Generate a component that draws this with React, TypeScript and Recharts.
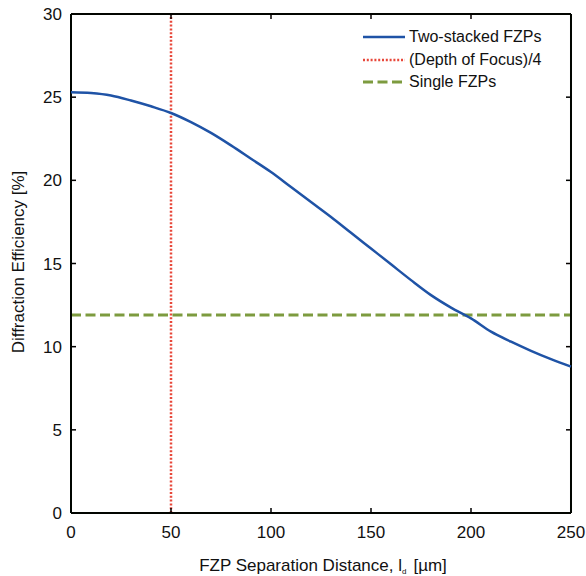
import { Line, LineChart, ReferenceLine, XAxis, YAxis } from "recharts";

// Two-stacked FZP diffraction efficiency vs separation distance
const separation = [
  0, 10, 20, 30, 40, 50, 60, 70, 80, 90, 100, 110, 120, 130, 140, 150, 160,
  170, 180, 190, 200, 210, 220, 230, 240, 250,
];
const twoStacked = [
  25.3, 25.25, 25.1, 24.8, 24.45, 24.05, 23.5, 22.85, 22.1, 21.3, 20.5, 19.6,
  18.7, 17.8, 16.85, 15.9, 14.95, 14.0, 13.1, 12.35, 11.7, 10.9, 10.3, 9.75,
  9.25, 8.8,
];
const depthOfFocusQuarter = 50;
const singleFzp = 11.9;

const xTicks = [0, 50, 100, 150, 200, 250];
const yTicks = [0, 5, 10, 15, 20, 25, 30];
const X_MIN = 0;
const X_MAX = 250;
const Y_MIN = 0;
const Y_MAX = 30;

const BLUE = "#1f53a6";
const RED = "#e8473a";
const GREEN = "#7d9b3f";
const FONT = "'Liberation Sans', Arial, Helvetica, sans-serif";

const data = separation.map((x, i) => ({ x, two: twoStacked[i] }));

const legendItems = [
  { label: "Two-stacked FZPs", color: BLUE, dash: undefined, width: 2.5 },
  { label: "(Depth of Focus)/4", color: RED, dash: "2 1.8", width: 2.5 },
  { label: "Single FZPs", color: GREEN, dash: "10 4.5", width: 3 },
];

// inward tick length in data units (~5px)
const TICK_DX = 2.5;
const TICK_DY = 0.3;

// near-black, one shade per line so every frame/tick line stays distinct
const ink = (i: number) => `rgb(${i % 8}, ${Math.floor(i / 8) % 8}, 0)`;

function LegendBox() {
  return (
    <div
      style={{
        position: "absolute",
        top: 26,
        left: 362,
        fontFamily: FONT,
        fontSize: 16,
        color: "#111",
      }}
    >
      {legendItems.map((it) => (
        <div
          key={it.label}
          style={{ display: "flex", alignItems: "center", height: 22.5 }}
        >
          <svg width={44} height={6} style={{ marginRight: 3 }}>
            <line
              x1={1}
              x2={43}
              y1={3}
              y2={3}
              stroke={it.color}
              strokeWidth={it.width}
              strokeDasharray={it.dash}
            />
          </svg>
          <span style={{ whiteSpace: "nowrap" }}>{it.label}</span>
        </div>
      ))}
    </div>
  );
}

function AxisTitles() {
  const style = { fontFamily: FONT, fontSize: 17, fill: "#111" };
  return (
    <svg
      width={586}
      height={576}
      style={{ position: "absolute", left: 0, top: 0, pointerEvents: "none" }}
    >
      <text x={323} y={571} textAnchor="middle" style={style}>
        FZP Separation Distance, l
        <tspan fontSize={8} dy={3}>
          d
        </tspan>
        <tspan dy={-3} dx={7}>
          {"[\u00b5m]"}
        </tspan>
      </text>
      <text
        x={24}
        y={262}
        textAnchor="middle"
        transform="rotate(-90 24 262)"
        style={style}
      >
        Diffraction Efficiency [%]
      </text>
    </svg>
  );
}

export default function App() {
  const tickStyle = { fontFamily: FONT, fontSize: 17, fill: "#111" };

  const innerXTicks = xTicks.slice(1, -1);
  const innerYTicks = yTicks.slice(1, -1);
  const tickSegs = [
    ...innerXTicks.map((t) => [
      { x: t, y: Y_MIN },
      { x: t, y: Y_MIN + TICK_DY },
    ]),
    ...innerXTicks.map((t) => [
      { x: t, y: Y_MAX },
      { x: t, y: Y_MAX - TICK_DY },
    ]),
    ...innerYTicks.map((t) => [
      { x: X_MIN, y: t },
      { x: X_MIN + TICK_DX, y: t },
    ]),
    ...innerYTicks.map((t) => [
      { x: X_MAX, y: t },
      { x: X_MAX - TICK_DX, y: t },
    ]),
  ];

  return (
    <div
      style={{
        position: "absolute",
        left: 0,
        top: 0,
        width: 586,
        height: 576,
        background: "#fff",
      }}
    >
      <LineChart
        width={586}
        height={576}
        data={data}
        margin={{ top: 14, right: 15, left: 0, bottom: 0 }}
      >
        <XAxis
          dataKey="x"
          type="number"
          domain={[X_MIN, X_MAX]}
          ticks={xTicks}
          height={63}
          axisLine={false}
          tickLine={false}
          tickSize={0}
          tickMargin={13}
          tick={tickStyle}
        />
        <YAxis
          type="number"
          domain={[Y_MIN, Y_MAX]}
          ticks={yTicks}
          width={71}
          axisLine={false}
          tickLine={false}
          tickSize={0}
          tickMargin={9}
          tick={tickStyle}
        />
        <ReferenceLine
          x={depthOfFocusQuarter}
          stroke={RED}
          strokeWidth={2.5}
          strokeDasharray="2 1.8"
        />
        <ReferenceLine
          y={singleFzp}
          stroke={GREEN}
          strokeWidth={3}
          strokeDasharray="10 4.5"
        />
        {/* box frame with inward ticks on all four sides */}
        <ReferenceLine x={X_MIN} stroke={ink(40)} strokeWidth={2} />
        <ReferenceLine x={X_MAX} stroke={ink(41)} strokeWidth={2.01} />
        <ReferenceLine y={Y_MIN} stroke={ink(42)} strokeWidth={2.02} />
        <ReferenceLine y={Y_MAX} stroke={ink(43)} strokeWidth={2.03} />
        {tickSegs.map((seg, i) => (
          <ReferenceLine
            key={`tick-${i}`}
            segment={seg}
            stroke={ink(i)}
            strokeWidth={1.5 + i * 0.001}
          />
        ))}
        <Line
          dataKey="two"
          type="monotone"
          stroke={BLUE}
          strokeWidth={2.5}
          dot={false}
          isAnimationActive={false}
        />
      </LineChart>
      <AxisTitles />
      <LegendBox />
    </div>
  );
}
